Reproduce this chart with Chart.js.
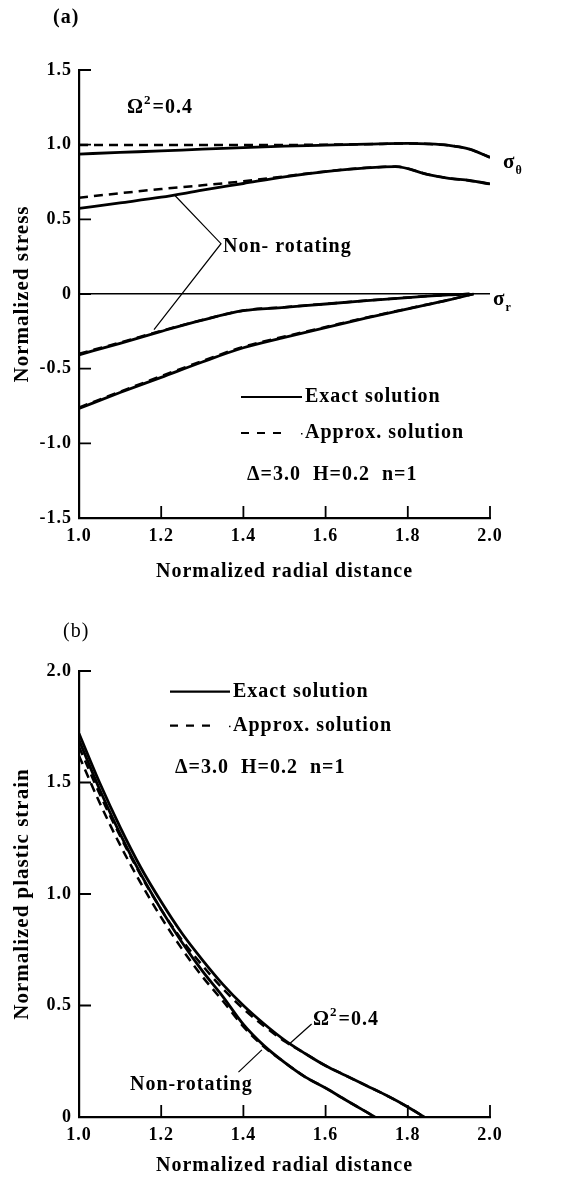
<!DOCTYPE html>
<html><head><meta charset="utf-8">
<script src="https://cdn.jsdelivr.net/npm/chart.js@4.4.1/dist/chart.umd.min.js"></script>
<style>
html,body{margin:0;padding:0;background:#fff;}
#wrap{position:relative;width:576px;height:1180px;background:#fff;}
canvas{position:absolute;left:0;}
</style></head><body>
<div id="wrap">
<canvas id="cA" width="576" height="590" style="top:0"></canvas>
<canvas id="cB" width="576" height="590" style="top:590px"></canvas>
</div>
<script>
// ---------- Chart (a): normalized stress ----------
const xTickValues = [1.0, 1.2, 1.4, 1.6, 1.8, 2.0];
const xTickLabels = ['1.0', '1.2', '1.4', '1.6', '1.8', '2.0'];
const yTickValuesA = [-1.5, -1.0, -0.5, 0, 0.5, 1.0, 1.5];
const yTickLabelsA = ['-1.5', '-1.0', '-0.5', '0', '0.5', '1.0', '1.5'];

const rotThetaX      = [1.0, 1.1, 1.2, 1.3, 1.4, 1.5, 1.6, 1.7, 1.8, 1.85, 1.9, 1.95, 2.0];
const rotThetaExact  = [0.937, 0.948, 0.958, 0.970, 0.980, 0.990, 0.997, 1.003, 1.008, 1.005, 0.995, 0.970, 0.915];
const rotThetaApprox = [0.998, 0.998, 0.998, 0.998, 0.998, 0.998, 1.000, 1.003, 1.008, 1.005, 0.995, 0.970, 0.915];

const nonThetaX      = [1.0, 1.1, 1.2, 1.3, 1.4, 1.5, 1.6, 1.7, 1.77, 1.85, 1.9, 1.95, 2.0];
const nonThetaExact  = [0.573, 0.610, 0.648, 0.695, 0.740, 0.785, 0.820, 0.845, 0.853, 0.800, 0.775, 0.760, 0.737];
const nonThetaApprox = [0.645, 0.675, 0.703, 0.728, 0.755, 0.788, 0.821, 0.845, 0.853, 0.800, 0.775, 0.760, 0.737];

const nonRX      = [1.0, 1.1, 1.2, 1.3, 1.4, 1.5, 1.6, 1.7, 1.8, 1.9, 1.95];
const nonRExact  = [-0.407, -0.330, -0.250, -0.175, -0.112, -0.090, -0.067, -0.045, -0.024, -0.006, 0];
const nonRApprox = [-0.400, -0.325, -0.247, -0.174, -0.110, -0.088, -0.066, -0.044, -0.023, -0.005, 0];

const rotRX      = [1.0, 1.1, 1.2, 1.3, 1.4, 1.5, 1.6, 1.7, 1.8, 1.9, 1.96];
const rotRExact  = [-0.766, -0.660, -0.558, -0.455, -0.360, -0.290, -0.225, -0.160, -0.100, -0.040, 0];
const rotRApprox = [-0.760, -0.654, -0.550, -0.449, -0.353, -0.285, -0.221, -0.157, -0.098, -0.039, 0];

// ---------- Chart (b): normalized plastic strain ----------
const yTickValuesB = [0, 0.5, 1.0, 1.5, 2.0];
const yTickLabelsB = ['0', '0.5', '1.0', '1.5', '2.0'];

const rotStrainX      = [1.0, 1.05, 1.1, 1.15, 1.2, 1.25, 1.3, 1.35, 1.4, 1.45, 1.5, 1.55, 1.6, 1.65, 1.7, 1.75, 1.8, 1.84];
const rotStrainExact  = [1.72, 1.50, 1.30, 1.12, 0.965, 0.825, 0.705, 0.595, 0.50, 0.418, 0.345, 0.285, 0.23, 0.185, 0.14, 0.095, 0.045, 0];
const rotStrainApprox = [1.66, 1.45, 1.26, 1.085, 0.93, 0.795, 0.68, 0.575, 0.485, 0.408, 0.34, 0.285, 0.23, 0.185, 0.14, 0.095, 0.045, 0];

const nonStrainX      = [1.0, 1.05, 1.1, 1.15, 1.2, 1.25, 1.3, 1.35, 1.4, 1.45, 1.5, 1.55, 1.6, 1.65, 1.7, 1.72];
const nonStrainExact  = [1.69, 1.47, 1.27, 1.09, 0.93, 0.785, 0.655, 0.54, 0.415, 0.32, 0.245, 0.18, 0.13, 0.075, 0.022, 0];
const nonStrainApprox = [1.62, 1.41, 1.22, 1.05, 0.895, 0.755, 0.63, 0.52, 0.405, 0.315, 0.245, 0.18, 0.13, 0.075, 0.022, 0];

const SERIF = "'Liberation Serif', 'Times New Roman', serif";

function pts(xs, ys) { return xs.map((x, i) => ({ x: x, y: ys[i] })); }
function ds(label, xs, ys, dashed) {
  return {
    label: label, data: pts(xs, ys),
    borderColor: '#000', backgroundColor: '#000',
    borderWidth: dashed ? 2.5 : 2.8, borderDash: dashed ? [9, 6] : [],
    pointRadius: 0, fill: false, cubicInterpolationMode: 'monotone'
  };
}

const spacing = {
  id: 'spacing',
  beforeDraw(chart) { chart.ctx.letterSpacing = '1px'; }
};

const inwardTicks = {
  id: 'inwardTicks',
  afterDatasetsDraw(chart) {
    const { ctx, chartArea: a, scales: { x, y } } = chart;
    ctx.save();
    ctx.setLineDash([]);
    ctx.strokeStyle = '#000'; ctx.lineWidth = 1.8;
    ctx.beginPath();
    x.ticks.forEach(t => {
      if (t.value === x.min) return;
      const px = x.getPixelForValue(t.value);
      ctx.moveTo(px, a.bottom); ctx.lineTo(px, a.bottom - 12);
    });
    y.ticks.forEach(t => {
      if (t.value === y.min) return;
      const py = y.getPixelForValue(t.value);
      ctx.moveTo(a.left, py); ctx.lineTo(a.left + 12, py);
    });
    ctx.stroke();
    ctx.restore();
  }
};

function text(ctx, s, x, y, size, weight) {
  ctx.font = (weight || 'bold') + ' ' + size + 'px ' + SERIF;
  ctx.textAlign = 'left'; ctx.textBaseline = 'middle';
  ctx.fillStyle = '#000';
  ctx.fillText(s, x, y);
  return ctx.measureText(s).width;
}
function omega(ctx, x, y) {
  let w = text(ctx, 'Ω', x, y, 20);
  let w2 = text(ctx, '2', x + w, y - 7, 13);
  text(ctx, '=0.4', x + w + w2 + 1, y, 20);
}
function legendBlock(ctx, x0, x1, yS, yD, tx) {
  ctx.save();
  ctx.strokeStyle = '#000'; ctx.lineWidth = 2.2;
  ctx.setLineDash([]);
  ctx.beginPath(); ctx.moveTo(x0, yS); ctx.lineTo(x1, yS); ctx.stroke();
  ctx.setLineDash([8, 8]);
  ctx.beginPath(); ctx.moveTo(x0, yD); ctx.lineTo(x1 - 20, yD); ctx.stroke();
  ctx.setLineDash([]);
  ctx.fillRect(x1 - 1, yD, 1.5, 1.5);
  ctx.restore();
  text(ctx, 'Exact solution', tx, yS, 20);
  text(ctx, 'Approx. solution', tx, yD, 20);
}
function line(ctx, chart, p) {
  const { x, y } = chart.scales;
  ctx.save();
  ctx.setLineDash([]);
  ctx.strokeStyle = '#000'; ctx.lineWidth = 1.2;
  ctx.beginPath();
  p.forEach((q, i) => {
    const px = x.getPixelForValue(q[0]), py = y.getPixelForValue(q[1]);
    if (i === 0) ctx.moveTo(px, py); else ctx.lineTo(px, py);
  });
  ctx.stroke();
  ctx.restore();
}

const annotA = {
  id: 'annotA',
  afterDraw(chart) {
    const ctx = chart.ctx;
    ctx.save();
    ctx.letterSpacing = '1px';
    text(ctx, '(a)', 53, 18, 20, 'bold');
    omega(ctx, 127, 108);
    let w = text(ctx, 'σ', 503, 163, 21, 'bold');
    text(ctx, 'θ', 503 + w, 171, 12, 'bold');
    w = text(ctx, 'σ', 493, 300, 21, 'bold');
    text(ctx, 'r', 493 + w, 308, 12, 'bold');
    text(ctx, 'Non- rotating', 223, 247, 20);
    line(ctx, chart, [[1.234, 0.658], [1.3455, 0.337], [1.1825, -0.239]]);
    legendBlock(ctx, 241, 302, 397, 433, 305);
    text(ctx, 'Δ=3.0  H=0.2  n=1', 247, 475, 20);
    ctx.restore();
  }
};

const annotB = {
  id: 'annotB',
  afterDraw(chart) {
    const ctx = chart.ctx;
    ctx.save();
    ctx.letterSpacing = '1px';
    text(ctx, '(b)', 63, 42, 20, 'normal');
    legendBlock(ctx, 170, 230, 101.7, 135.7, 233);
    text(ctx, 'Δ=3.0  H=0.2  n=1', 175, 178, 20);
    omega(ctx, 313, 430);
    line(ctx, chart, [[1.566, 0.417], [1.509, 0.323]]);
    text(ctx, 'Non-rotating', 130, 495, 20);
    line(ctx, chart, [[1.388, 0.201], [1.445, 0.301]]);
    ctx.restore();
  }
};

function scalesFor(yMin, yMax, yVals, yLabels, yTitle, xHeight, zeroLine, titlePadBottom) {
  return {
    x: {
      type: 'linear', min: 1.0, max: 2.0,
      afterBuildTicks: s => { s.ticks = xTickValues.map(v => ({ value: v })); },
      afterFit: s => { s.height = xHeight; },
      grid: { display: false, drawTicks: false },
      border: { display: true, color: '#000', width: 2.2 },
      ticks: { color: '#000', padding: 8, font: { family: SERIF, size: 18, weight: 'bold' },
               maxRotation: 0, autoSkip: false,
               callback: (v, i) => xTickLabels[i] },
      title: { display: true, text: 'Normalized radial distance', color: '#000',
               font: { family: SERIF, size: 20, weight: 'bold' },
               padding: { top: 0, bottom: titlePadBottom } }
    },
    y: {
      type: 'linear', min: yMin, max: yMax,
      afterBuildTicks: s => { s.ticks = yVals.map(v => ({ value: v })); },
      afterFit: s => { s.width = 79; },
      grid: zeroLine ? {
        display: true, drawTicks: false, lineWidth: 1.6,
        color: c => (c.tick && c.tick.value === 0) ? '#000' : 'rgba(0,0,0,0)'
      } : { display: false, drawTicks: false },
      border: { display: true, color: '#000', width: 2.2 },
      ticks: { color: '#000', padding: 7, font: { family: SERIF, size: 18, weight: 'bold' },
               autoSkip: false,
               callback: (v, i) => yLabels[i] },
      title: { display: true, text: yTitle, color: '#000',
               font: { family: SERIF, size: 21, weight: 'bold' },
               padding: { top: 10, bottom: 0 } }
    }
  };
}

const common = {
  responsive: false, animation: false, devicePixelRatio: 1,
  plugins: { legend: { display: false }, tooltip: { enabled: false } },
  elements: { line: { borderCapStyle: 'butt' } }
};

new Chart(document.getElementById('cA'), {
  type: 'line',
  data: {
    datasets: [
      ds('Ω²=0.4 σθ approx', rotThetaX, rotThetaApprox, true),
      ds('Non-rotating σθ approx', nonThetaX, nonThetaApprox, true),
      ds('Non-rotating σr approx', nonRX, nonRApprox, true),
      ds('Ω²=0.4 σr approx', rotRX, rotRApprox, true),
      ds('Ω²=0.4 σθ exact', rotThetaX, rotThetaExact, false),
      ds('Non-rotating σθ exact', nonThetaX, nonThetaExact, false),
      ds('Non-rotating σr exact', nonRX, nonRExact, false),
      ds('Ω²=0.4 σr exact', rotRX, rotRExact, false)
    ]
  },
  options: Object.assign({}, common, {
    layout: { padding: { left: 0, right: 86, top: 70, bottom: 0 } },
    scales: scalesFor(-1.5, 1.5, yTickValuesA, yTickLabelsA, 'Normalized stress', 72, true, 6)
  }),
  plugins: [spacing, inwardTicks, annotA]
});

new Chart(document.getElementById('cB'), {
  type: 'line',
  data: {
    datasets: [
      ds('Ω²=0.4 approx', rotStrainX, rotStrainApprox, true),
      ds('Non-rotating approx', nonStrainX, nonStrainApprox, true),
      ds('Ω²=0.4 exact', rotStrainX, rotStrainExact, false),
      ds('Non-rotating exact', nonStrainX, nonStrainExact, false)
    ]
  },
  options: Object.assign({}, common, {
    layout: { padding: { left: 0, right: 86, top: 81, bottom: 0 } },
    scales: scalesFor(0, 2.0, yTickValuesB, yTickLabelsB, 'Normalized plastic strain', 63, false, 2)
  }),
  plugins: [spacing, inwardTicks, annotB]
});
</script>
</body></html>
